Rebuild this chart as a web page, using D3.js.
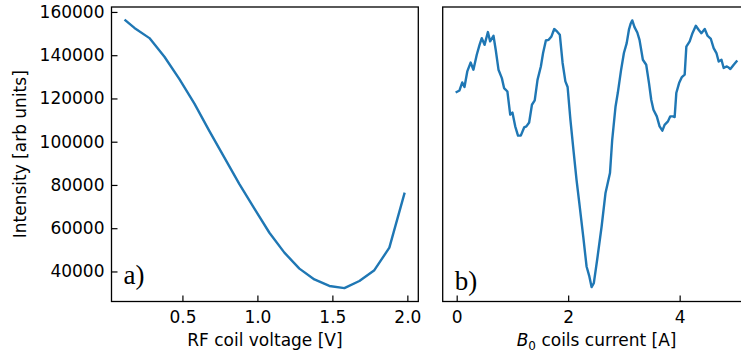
<!DOCTYPE html>
<html>
<head>
<meta charset="utf-8">
<script src="https://cdn.jsdelivr.net/npm/d3@7"></script>
<style>
    body { margin: 0; background: #fff; }
    text { font-family: "DejaVu Sans", sans-serif; fill: #000; }
    .tick text { font-size: 17px; }
    .panel-tag { font-family: "Liberation Serif", serif; font-size: 27px; }
</style>
</head>
<body>
<svg id="chart" width="741" height="358"></svg>
<script>
    "use strict";
    // panel a) : RF coil voltage sweep
    var aX = [0.12, 0.18, 0.28, 0.38, 0.48, 0.58, 0.68, 0.78, 0.88, 0.98, 1.08, 1.18, 1.28, 1.38, 1.48, 1.58, 1.68, 1.78, 1.88, 1.98];
    var aY = [156100, 152600, 147900, 139300, 128900, 117600, 104900, 92600, 80400, 69000, 57900, 48700, 41300, 36300, 33300, 32300, 35600, 40600, 51000, 75900];
    // panel b) : B0 coils current sweep
    var bX = [0.00, 0.05, 0.10, 0.14, 0.19, 0.25, 0.30, 0.36, 0.41, 0.45, 0.50, 0.56, 0.60, 0.66, 0.70, 0.75, 0.81, 0.85, 0.91, 0.96,
        1.00, 1.05, 1.10, 1.15, 1.21, 1.25, 1.30, 1.35, 1.40, 1.45, 1.51, 1.55, 1.60, 1.65, 1.70, 1.75, 1.80, 1.85, 1.90, 1.95,
        1.99, 2.04, 2.10, 2.15, 2.20, 2.27, 2.33, 2.38, 2.42, 2.46, 2.52, 2.60, 2.67, 2.75, 2.79, 2.85, 2.89, 2.95, 3.00, 3.05,
        3.09, 3.12, 3.15, 3.19, 3.24, 3.28, 3.34, 3.40, 3.45, 3.49, 3.53, 3.59, 3.64, 3.69, 3.73, 3.79, 3.83, 3.88, 3.91, 3.94,
        3.99, 4.04, 4.09, 4.12, 4.18, 4.23, 4.29, 4.34, 4.39, 4.45, 4.50, 4.56, 4.61, 4.66, 4.70, 4.75, 4.79, 4.84, 4.88, 4.91,
        4.97, 5.02];
    var bY = [123000, 123700, 127400, 125300, 132500, 136600, 133300, 140200, 144800, 147900, 144800, 150700, 146400, 149000, 142500, 133300, 129400, 124800, 123200, 112500,
        113500, 107100, 102800, 102800, 106600, 107100, 108900, 117100, 119100, 128600, 134800, 141000, 146800, 147100, 148700, 152100, 151000, 149500, 136400, 127900,
        125300, 110200, 94800, 82400, 71600, 56200, 42300, 37700, 32800, 34600, 45400, 60800, 76300, 85500, 100900, 116300, 122500, 133300, 141000, 145600,
        151800, 154500, 156100, 153000, 150500, 147100, 137900, 135600, 127100, 119400, 114800, 111700, 107100, 105100, 107800, 109400, 111700, 111700, 111400, 122500,
        127100, 129900, 131000, 144000, 146400, 150200, 153600, 151800, 150200, 152100, 149000, 147500, 143300, 141000, 137100, 137900, 134100, 134800, 134300, 133600,
        135600, 137100];
    var yTicks = [40000, 60000, 80000, 100000, 120000, 140000, 160000];
    var aTicks = [0.5, 1.0, 1.5, 2.0];
    var bTicks = [0, 2, 4];

    var svg = d3.select("#chart");
    var plotTop = 7, plotBottom = 301.5, tickLen = 6;

    // matplotlib style 5% margins
    function padded(values) {
        var ext = d3.extent(values);
        var m = (ext[1] - ext[0]) * 0.05;
        return [ext[0] - m, ext[1] + m];
    }

    var y = d3.scaleLinear().domain(padded(aY.concat(bY))).range([plotBottom, plotTop]);
    var xa = d3.scaleLinear().domain(padded(aX)).range([111.5, 418.3]);
    var xb = d3.scaleLinear().domain(padded(bX)).range([442.7, 750.5]);

    function drawPanel(xs, xv, yv, xticks, fmt, showY, tag, tagY) {
        var x0 = xs.range()[0], x1 = xs.range()[1];
        var g = svg.append("g");
        var xAxis = g.append("g")
            .attr("transform", "translate(0," + plotBottom + ")")
            .call(d3.axisBottom(xs).tickValues(xticks).tickFormat(fmt).tickSizeInner(-tickLen).tickSizeOuter(0).tickPadding(9));
        xAxis.select(".domain").remove();
        xAxis.selectAll(".tick line").attr("stroke-width", 1.2);
        if (showY) {
            var yAxis = g.append("g")
                .attr("transform", "translate(" + x0 + ",0)")
                .call(d3.axisLeft(y).tickValues(yTicks).tickFormat(d3.format("d")).tickSizeInner(-tickLen).tickSizeOuter(0).tickPadding(7));
            yAxis.select(".domain").remove();
            yAxis.selectAll(".tick line").attr("stroke-width", 1.2);
        }
        var line = d3.line()
            .x(function (d) { return xs(d[0]); })
            .y(function (d) { return y(d[1]); });
        g.append("path")
            .datum(d3.zip(xv, yv))
            .attr("d", line)
            .attr("fill", "none")
            .attr("stroke", "#1f77b4")
            .attr("stroke-width", 2.4)
            .attr("stroke-linejoin", "round")
            .attr("stroke-linecap", "square");
        g.append("rect")
            .attr("x", x0).attr("y", plotTop)
            .attr("width", x1 - x0).attr("height", plotBottom - plotTop)
            .attr("fill", "none").attr("stroke", "#000").attr("stroke-width", 1.3);
        g.append("text")
            .attr("class", "panel-tag")
            .attr("x", x0 + 12).attr("y", tagY)
            .text(tag);
    }

    drawPanel(xa, aX, aY, aTicks, d3.format(".1f"), true, "a)", 284);
    drawPanel(xb, bX, bY, bTicks, d3.format("d"), false, "b)", 290);

    svg.append("text")
        .attr("transform", "translate(26," + ((plotTop + plotBottom) / 2) + ") rotate(-90)")
        .attr("text-anchor", "middle")
        .style("font-size", "17px")
        .text("Intensity [arb units]");
    svg.append("text")
        .attr("x", (xa.range()[0] + xa.range()[1]) / 2).attr("y", 345.5)
        .attr("text-anchor", "middle")
        .style("font-size", "17px")
        .text("RF coil voltage [V]");
    var bl = svg.append("text")
        .attr("x", (xb.range()[0] + xb.range()[1]) / 2).attr("y", 345.5)
        .attr("text-anchor", "middle")
        .style("font-size", "17px");
    bl.append("tspan").attr("font-style", "italic").text("B");
    bl.append("tspan").attr("dy", 4).style("font-size", "12px").text("0");
    bl.append("tspan").attr("dy", -4).text(" coils current [A]");
</script>
</body>
</html>
